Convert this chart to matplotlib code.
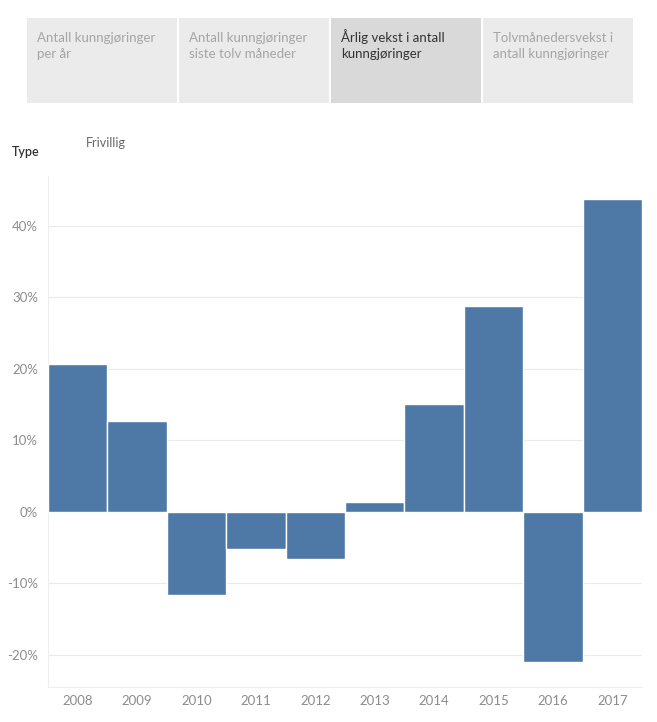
import matplotlib.pyplot as plt
from matplotlib.patches import Rectangle
from matplotlib.ticker import FuncFormatter

years = ['2008', '2009', '2010', '2011', '2012', '2013', '2014', '2015', '2016', '2017']
growth = [20.7, 12.7, -11.6, -5.2, -6.6, 1.4, 15.1, 28.8, -21.0, 43.8]
tabs = [['Antall kunngjøringer', 'per år'],
        ['Antall kunngjøringer', 'siste tolv måneder'],
        ['Årlig vekst i antall', 'kunngjøringer'],
        ['Tolvmånedersvekst i', 'antall kunngjøringer']]
selected_tab = 2
type_value = 'Frivillig'

plt.rcParams['font.family'] = ['Lato', 'DejaVu Sans']

W, H = 657, 722
fig = plt.figure(figsize=(W / 100, H / 100), dpi=100)

def px(x, y):
    """convert pixel coords (top-left origin) to figure fraction"""
    return x / W, 1 - y / H

# tab strip at the top
tab_x = [27, 179, 331, 483]
for i, lines in enumerate(tabs):
    x0, y0 = px(tab_x[i], 103)
    col = '#d9d9d9' if i == selected_tab else '#ebebeb'
    fig.patches.append(Rectangle((x0, y0), 150 / W, 85 / H, transform=fig.transFigure,
                                 facecolor=col, edgecolor='none'))
    for j, line in enumerate(lines):
        tx, ty = px(tab_x[i] + 10, 42 + j * 16)
        fig.text(tx, ty, line, fontsize=9.5, va='baseline', ha='left',
                 color='#333333' if i == selected_tab else '#a5a5a5')

# filter header
fig.text(*px(12, 152), 'Type', fontsize=9, fontweight='semibold', color='#333333', va='center')
fig.text(*px(86, 143), type_value, fontsize=9, color='#666666', va='center')

# main chart
left, right, top, bottom = 48, 642, 176, 687
ax = fig.add_axes([left / W, (H - bottom) / H, (right - left) / W, (bottom - top) / H])
ax.bar(range(len(years)), growth, width=1.0, color='#4e79a7', edgecolor='white', linewidth=1, zorder=3)
ax.set_xlim(-0.5, len(years) - 0.5)
ax.set_ylim(-24.5, 47.0)
ax.set_yticks([-20, -10, 0, 10, 20, 30, 40])
ax.yaxis.set_major_formatter(FuncFormatter(lambda v, p: f'{int(v)}%'))
ax.set_xticks(range(len(years)))
ax.set_xticklabels(years)
ax.grid(axis='y', color='#ebebeb', linewidth=0.8, zorder=0)
ax.tick_params(length=0, labelsize=9.5, colors='#8c8c8c')
ax.tick_params(axis='y', pad=7)
ax.tick_params(axis='x', pad=6)
for s in ['top', 'right']:
    ax.spines[s].set_visible(False)
for s in ['left', 'bottom']:
    ax.spines[s].set_color('#eeeeee')
    ax.spines[s].set_linewidth(0.8)

fig.savefig('out.png', dpi=100)
